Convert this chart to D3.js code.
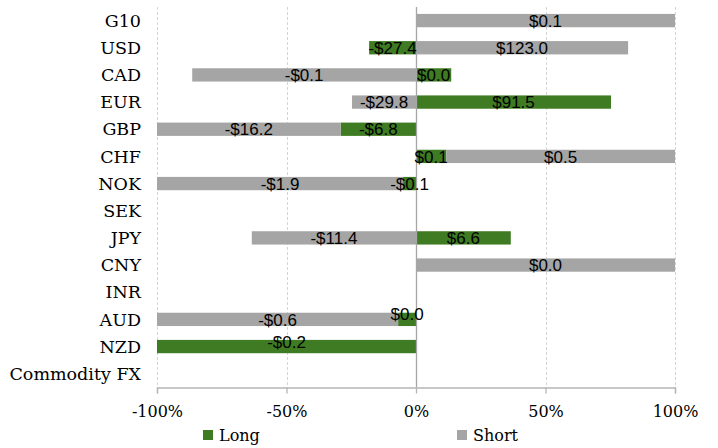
<!DOCTYPE html>
<html lang="en">
<head>
<meta charset="UTF-8">
<title>FX positioning</title>
<script src="https://cdn.jsdelivr.net/npm/d3@7/dist/d3.min.js"></script>
<style>
  body { margin: 0; background: #fff; }
  .cat, .tick-label, .legend-text { font-family: "DejaVu Serif", serif; font-size: 16px; fill: #000; }
  .cat { font-size: 17.5px; }
  .val { font-family: "Liberation Sans", Arial, sans-serif; font-size: 17px; fill: #000; }
</style>
</head>
<body>
<div id="chart"></div>
<script>
// chart data (percent of bar)
const categories = ["G10", "USD", "CAD", "EUR", "GBP", "CHF", "NOK", "SEK", "JPY", "CNY", "INR", "AUD", "NZD", "Commodity FX"];
const longPct  = [0, -18.1, 13.6, 75.3, -29.1, 11.7, -5.0, 0, 36.6, 0, 0, -6.9, -100, 0];
const shortPct = [100, 81.9, -86.4, -24.7, -70.9, 88.3, -95.0, 0, -63.4, 100, 0, -93.1, 0, 0];
const longLabels  = ["", "-$27.4", "$0.0", "$91.5", "-$6.8", "$0.1", "-$0.1", "", "$6.6", "", "", "$0.0", "-$0.2", ""];
const shortLabels = ["$0.1", "$123.0", "-$0.1", "-$29.8", "-$16.2", "$0.5", "-$1.9", "", "-$11.4", "$0.0", "", "-$0.6", "", ""];
const xTicks = [-100, -50, 0, 50, 100];

const width = 718, height = 448;
const margin = { top: 7, right: 43, bottom: 60, left: 157 };
const colors = { long: "#3f7b22", short: "#a5a5a5" };
// excel nudged a couple of overlapping labels upward
const labelShift = { AUD: -6, NZD: -5 };

const rows = categories.map((c, i) => ({ cat: c, long: longPct[i], short: shortPct[i], longLabel: longLabels[i], shortLabel: shortLabels[i] }));

const svg = d3.select("#chart").append("svg")
    .attr("width", width)
    .attr("height", height);

const x = d3.scaleLinear()
    .domain([-100, 100])
    .range([margin.left, width - margin.right]);

const y = d3.scaleBand()
    .domain(categories)
    .range([margin.top, height - margin.bottom - 0.7])
    .paddingInner(0.51)
    .paddingOuter(0.255);

const plotBottom = height - margin.bottom - 0.5;

// dashed gridlines
svg.append("g")
    .selectAll("line")
    .data(xTicks.filter(t => t !== 0))
    .enter()
    .append("line")
    .attr("x1", d => Math.round(x(d)) + 0.5)
    .attr("x2", d => Math.round(x(d)) + 0.5)
    .attr("y1", margin.top)
    .attr("y2", plotBottom)
    .attr("stroke", "#d4d4d4")
    .attr("stroke-dasharray", "3,2");

// stacked bars (long first, then short)
const series = d3.stack()
    .keys(["long", "short"])
    .offset(d3.stackOffsetDiverging)(rows);

const layers = svg.append("g")
    .selectAll("g")
    .data(series)
    .enter()
    .append("g")
    .attr("fill", d => colors[d.key]);

layers.selectAll("rect")
    .data(d => d.map(s => ({ key: d.key, lo: s[0], hi: s[1], row: s.data })))
    .enter()
    .append("rect")
    .attr("x", d => x(Math.min(d.lo, d.hi)))
    .attr("y", d => y(d.row.cat))
    .attr("width", d => Math.abs(x(d.hi) - x(d.lo)))
    .attr("height", y.bandwidth());

// zero line
svg.append("line")
    .attr("x1", Math.round(x(0)) + 0.5)
    .attr("x2", Math.round(x(0)) + 0.5)
    .attr("y1", margin.top)
    .attr("y2", plotBottom)
    .attr("stroke", "#a6a6a6")
    .attr("stroke-width", 1.3);

// value labels
const labelData = [];
series.forEach(layer => {
    layer.forEach(s => {
        const txt = layer.key === "long" ? s.data.longLabel : s.data.shortLabel;
        if (txt) labelData.push({ key: layer.key, mid: (s[0] + s[1]) / 2, cat: s.data.cat, txt: txt });
    });
});

svg.append("g")
    .selectAll("text")
    .data(labelData)
    .enter()
    .append("text")
    .attr("class", "val")
    .attr("x", d => x(d.mid))
    .attr("y", d => y(d.cat) + y.bandwidth() / 2 + (d.key === "long" && labelShift[d.cat] ? labelShift[d.cat] : 0))
    .attr("dy", "0.36em")
    .attr("text-anchor", "middle")
    .text(d => d.txt);

// category labels
svg.append("g")
    .selectAll("text")
    .data(categories)
    .enter()
    .append("text")
    .attr("class", "cat")
    .attr("x", 141)
    .attr("y", d => y(d) + y.bandwidth() / 2)
    .attr("dy", "0.35em")
    .attr("text-anchor", "end")
    .text(d => d);

// x axis
const xAxis = d3.axisBottom(x)
    .tickValues(xTicks)
    .tickSize(6)
    .tickFormat(d => d + "%");

const axisG = svg.append("g")
    .attr("transform", `translate(0, ${plotBottom})`)
    .call(xAxis);
axisG.select(".domain").attr("stroke", "#b5b5b5").attr("stroke-width", 1.3);
axisG.selectAll(".tick line").attr("stroke", "#b5b5b5").attr("stroke-width", 1.3);
axisG.selectAll(".tick text")
    .attr("class", "tick-label")
    .attr("font-family", null)
    .attr("font-size", null)
    .attr("fill", null)
    .attr("y", 18);
axisG.attr("font-family", null).attr("font-size", null);

// legend
const legendItems = [
    { key: "long", label: "Long", x: 203 },
    { key: "short", label: "Short", x: 457 }
];
const legend = svg.append("g")
    .selectAll("g")
    .data(legendItems)
    .enter()
    .append("g")
    .attr("transform", d => `translate(${d.x}, 430)`);
legend.append("rect")
    .attr("width", 10)
    .attr("height", 10)
    .attr("fill", d => colors[d.key]);
legend.append("text")
    .attr("class", "legend-text")
    .attr("x", 16)
    .attr("y", 5)
    .attr("dy", "0.35em")
    .text(d => d.label);
</script>
</body>
</html>
